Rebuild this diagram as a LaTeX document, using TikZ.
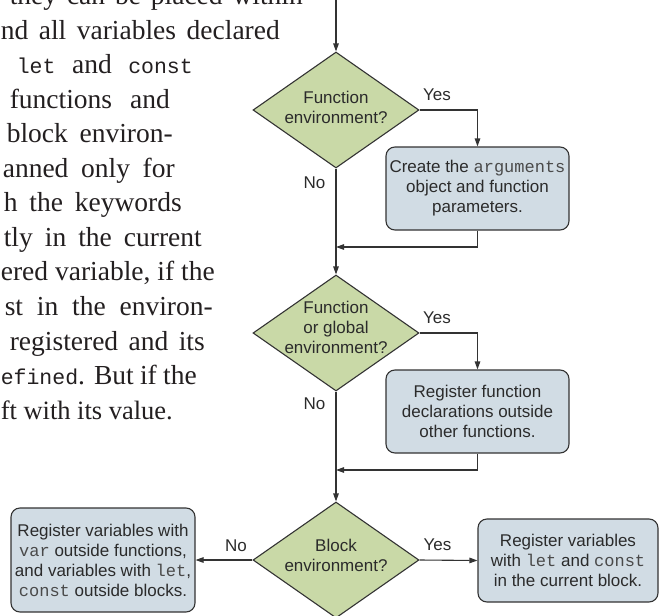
\documentclass[tikz,border=0pt]{standalone}
\usepackage{fontspec}
\setmainfont{Liberation Serif}
\setsansfont{Liberation Sans}
\setmonofont{Liberation Mono}
\usetikzlibrary{shapes.geometric,arrows.meta}
\definecolor{dfill}{HTML}{C9D9A7}
\definecolor{bfill}{HTML}{D1DCE4}
\definecolor{lcol}{HTML}{333333}
\definecolor{tcol}{HTML}{2B2B2B}
\definecolor{mcol}{HTML}{4A4A4A}
\definecolor{pcol}{HTML}{231F20}
\newcommand{\dmono}[1]{{\ttfamily\color{mcol}#1}}
\newcommand{\pgmono}[1]{{\ttfamily\fontsize{21.5}{30}\selectfont #1}}
\begin{document}
\begin{tikzpicture}[x=1pt,y=-1pt,
  dec/.style={diamond, draw=lcol, fill=dfill, line width=1.1pt, minimum width=166pt, minimum height=116pt, inner sep=0pt},
  proc/.style={rectangle, rounded corners=9pt, draw=lcol, fill=bfill, line width=1.1pt, align=center, inner sep=0pt, font=\sffamily\fontsize{17}{20}\selectfont, text=tcol},
  dlab/.style={align=center, inner sep=0pt, font=\sffamily\fontsize{17}{20}\selectfont, text=tcol},
  arr/.style={draw=lcol, line width=1.1pt, -{Triangle[length=8pt,width=5.5pt]}},
  lbl/.style={inner sep=0pt, font=\sffamily\fontsize{17}{20}\selectfont, text=tcol},
  ptxt/.style={anchor=base east, inner sep=0pt, font=\fontsize{27.5}{34}\selectfont, text=pcol}
]
\useasboundingbox (0,0) rectangle (659,616);
\clip (0,0) rectangle (659,616);

% page text (justified lines of a cropped page)
\node[ptxt] (p1) at (303,4.5) {\makebox[293pt][s]{they can be placed within}};
\node[ptxt] (p2) at (280,39.05) {\makebox[279pt][s]{nd all variables declared}};
\node[ptxt] (p3) at (193,73.6) {\makebox[176pt][s]{\pgmono{let}\hfill and\hfill\pgmono{const}}};
\node[ptxt] (p4) at (170,108.15) {\makebox[160pt][s]{functions and}};
\node[ptxt] (p5) at (173,142.7) {\makebox[166pt][s]{block environ-}};
\node[ptxt] (p6) at (175,177.25) {\makebox[172pt][s]{anned only for}};
\node[ptxt] (p7) at (182,211.8) {\makebox[178pt][s]{h the keywords}};
\node[ptxt] (p8) at (202,246.35) {\makebox[198pt][s]{tly in the current}};
\node[ptxt] (p9) at (215,280.9) {\makebox[214pt][s]{ered variable, if the}};
\node[ptxt] (p10) at (213,315.45) {\makebox[208pt][s]{st in the environ-}};
\node[ptxt] (p11) at (205,350) {\makebox[195pt][s]{registered and its}};
\node[ptxt] (p12) at (197,384.55) {\makebox[196pt][s]{\pgmono{efined}. But if the}};
\node[ptxt, font=\fontsize{26.5}{34}\selectfont] (p13) at (173,419.1) {\makebox[172pt][s]{ft with its value.}};

% diagram
\coordinate (top) at (336,-1);
\node[dec, label={[dlab, yshift=3pt]center:Function\\environment?}] (d1) at (336,110) {};
\node[dec, label={[dlab, yshift=6pt]center:Function\\or global\\environment?}] (d2) at (336,333) {};
\node[dec, label={[dlab, yshift=5pt]center:Block\\environment?}] (d3) at (336,560) {};

\node[proc, minimum width=183pt, minimum height=83pt] (b1) at (477.5,188.5)
  {Create the \dmono{arguments}\\object and function\\parameters.};
\node[proc, minimum width=183pt, minimum height=83pt] (b2) at (477.5,411.5)
  {Register function\\declarations outside\\other functions.};
\node[proc, minimum width=184pt, minimum height=104pt] (b3) at (103,560)
  {Register variables with\\\dmono{var} outside functions,\\and variables with \dmono{let},\\\dmono{const} outside blocks.};
\node[proc, minimum width=180pt, minimum height=83pt] (b4) at (568,560.5)
  {Register variables\\with \dmono{let} and \dmono{const}\\in the current block.};

\coordinate (m1) at (336,247);
\coordinate (m2) at (336,470);

\draw[arr] (top) -- (d1.north);
\draw[arr] (d1.east) -- node[lbl, pos=0.3, above=9pt] {Yes} (d1.east -| b1.north) -- (b1.north);
\draw[arr] (d1.south) -- node[lbl, pos=0.13, left=10pt] {No} (d2.north);
\draw[arr] (b1.south) |- (m1);
\draw[arr] (d2.east) -- node[lbl, pos=0.3, above=9pt] {Yes} (d2.east -| b2.north) -- (b2.north);
\draw[arr] (d2.south) -- node[lbl, pos=0.11, left=10pt] {No} (d3.north);
\draw[arr] (b2.south) |- (m2);
\draw[arr] (d3.west) -- node[lbl, pos=0.29, above=8pt] {No} (b3.east);
\draw[arr] (d3.east) -- node[lbl, pos=0.31, above=9pt] {Yes} (b4.west);
\end{tikzpicture}
\end{document}
